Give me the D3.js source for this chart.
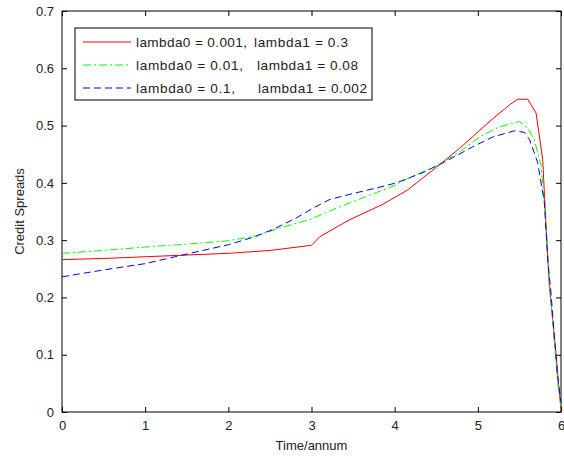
<!DOCTYPE html>
<html>
<head>
<meta charset="utf-8">
<script src="https://cdn.jsdelivr.net/npm/d3@7"></script>
<style>
  body { margin: 0; background: #fff; }
  svg { display: block; font-family: "Liberation Sans", Arial, sans-serif; }
</style>
</head>
<body>
<svg id="chart" width="564" height="459"></svg>
<script>
// series: [time, spread]
var red = [[0,0.266],[0.5,0.268],[1,0.271],[1.5,0.274],[2,0.277],[2.5,0.282],[3.0,0.291],[3.1,0.306],
  [3.45,0.335],[3.85,0.362],[4.15,0.387],[4.5,0.427],[4.78,0.46],[5.14,0.507],[5.38,0.536],[5.48,0.546],
  [5.6,0.546],[5.7,0.522],[5.78,0.441],[5.82,0.324],[5.86,0.219],[5.94,0.103],[5.98,0.033],[6.0,0.005]];
var green = [[0,0.277],[0.5,0.282],[1,0.288],[1.5,0.293],[2,0.299],[2.32,0.307],[2.66,0.323],[2.98,0.336],
  [3.22,0.351],[3.46,0.365],[3.78,0.383],[3.98,0.394],[4.22,0.412],[4.5,0.429],[4.78,0.454],[5.02,0.48],
  [5.26,0.498],[5.5,0.507],[5.6,0.495],[5.68,0.475],[5.76,0.43],[5.82,0.33],[5.86,0.23],[5.92,0.12],
  [5.96,0.05],[6.0,0.01]];
var blue = [[0,0.236],[0.5,0.248],[1,0.259],[1.48,0.275],[2,0.292],[2.32,0.306],[2.54,0.319],[2.82,0.339],
  [3.02,0.356],[3.22,0.371],[3.46,0.38],[3.78,0.391],[4.02,0.40],[4.34,0.418],[4.62,0.438],[4.94,0.463],
  [5.18,0.48],[5.44,0.491],[5.56,0.488],[5.62,0.476],[5.68,0.452],[5.72,0.435],[5.80,0.366],[5.84,0.266],
  [5.88,0.208],[5.92,0.131],[5.96,0.061],[6.0,0.016]];

var xTicks = [0, 1, 2, 3, 4, 5, 6];
var yTicks = [0, 0.1, 0.2, 0.3, 0.4, 0.5, 0.6, 0.7];
var legendLeft = ["lambda0 = 0.001,", "lambda0 = 0.01,", "lambda0 = 0.1,"];
var legendRight = ["lambda1 = 0.3", "lambda1 = 0.08", "lambda1 = 0.002"];

var series = [
  {data: red, color: "#ff0000", dash: null},
  {data: green, color: "#00ff00", dash: "8,3,2,3"},
  {data: blue, color: "#0000ff", dash: "7,4"}
];

var svg = d3.select("#chart");
var mLeft = 62, mRight = 561, mTop = 11, mBottom = 412;

var x = d3.scaleLinear().domain([0, 6]).range([mLeft, mRight]);
var y = d3.scaleLinear().domain([0, 0.7]).range([mBottom, mTop]);

// axes, ticks pointing inward like matlab
svg.append("g").attr("transform", "translate(0," + mBottom + ")")
  .call(d3.axisBottom(x).tickValues(xTicks).tickSizeInner(-5).tickSizeOuter(0).tickPadding(9).tickFormat(d3.format("d")));
svg.append("g").attr("transform", "translate(0," + mTop + ")")
  .call(d3.axisTop(x).tickValues(xTicks).tickSizeInner(-5).tickSizeOuter(0).tickFormat(""));
svg.append("g").attr("transform", "translate(" + mLeft + ",0)")
  .call(d3.axisLeft(y).tickValues(yTicks).tickSizeInner(-5).tickSizeOuter(0).tickPadding(8).tickFormat(function (d) { return d === 0 ? "0" : d3.format(".1f")(d); }));
svg.append("g").attr("transform", "translate(" + mRight + ",0)")
  .call(d3.axisRight(y).tickValues(yTicks).tickSizeInner(-5).tickSizeOuter(0).tickFormat(""));

svg.selectAll(".domain").remove();
svg.selectAll(".tick line").attr("stroke", "#000");
svg.selectAll(".tick text").attr("font-size", 13).attr("fill", "#222")
  .attr("font-family", "Liberation Sans, Arial, sans-serif");

svg.append("rect")
  .attr("x", mLeft).attr("y", mTop).attr("width", mRight - mLeft).attr("height", mBottom - mTop)
  .attr("fill", "none").attr("stroke", "#000").attr("stroke-width", 1);

// lines
var line = d3.line().x(function (d) { return x(d[0]); }).y(function (d) { return y(d[1]); });
svg.selectAll(".series").data(series).enter().append("path")
  .attr("class", "series")
  .attr("d", function (d) { return line(d.data); })
  .attr("fill", "none")
  .attr("stroke", function (d) { return d.color; })
  .attr("stroke-width", 1)
  .attr("stroke-dasharray", function (d) { return d.dash; });

// axis labels
svg.append("text").attr("x", (mLeft + mRight) / 2).attr("y", 450)
  .attr("text-anchor", "middle").attr("font-size", 13).attr("fill", "#222").text("Time/annum");
svg.append("text").attr("transform", "translate(24," + ((mTop + mBottom) / 2) + ") rotate(-90)")
  .attr("text-anchor", "middle").attr("font-size", 13).attr("fill", "#222").text("Credit Spreads");

// legend
var lg = svg.append("g");
lg.append("rect").attr("x", 75).attr("y", 28).attr("width", 297).attr("height", 72)
  .attr("fill", "#fff").attr("stroke", "#000").attr("stroke-width", 1);
var rows = lg.selectAll(".row").data(series).enter().append("g")
  .attr("transform", function (d, i) { return "translate(0," + (42 + i * 23) + ")"; });
rows.append("line").attr("x1", 83).attr("x2", 131).attr("y1", 0).attr("y2", 0)
  .attr("stroke", function (d) { return d.color; })
  .attr("stroke-dasharray", function (d) { return d.dash; });
rows.append("text").attr("x", 136).attr("y", 5).attr("font-size", 13.6).attr("fill", "#222")
  .attr("textLength", function (d, i) { return [111, 107, 99][i]; }).attr("lengthAdjust", "spacing")
  .text(function (d, i) { return legendLeft[i]; });
rows.append("text").attr("x", function (d, i) { return [254, 257, 258][i]; }).attr("y", 5).attr("font-size", 13.6).attr("fill", "#222")
  .attr("textLength", function (d, i) { return [94, 101, 109][i]; }).attr("lengthAdjust", "spacing")
  .text(function (d, i) { return legendRight[i]; });
</script>
</body>
</html>
